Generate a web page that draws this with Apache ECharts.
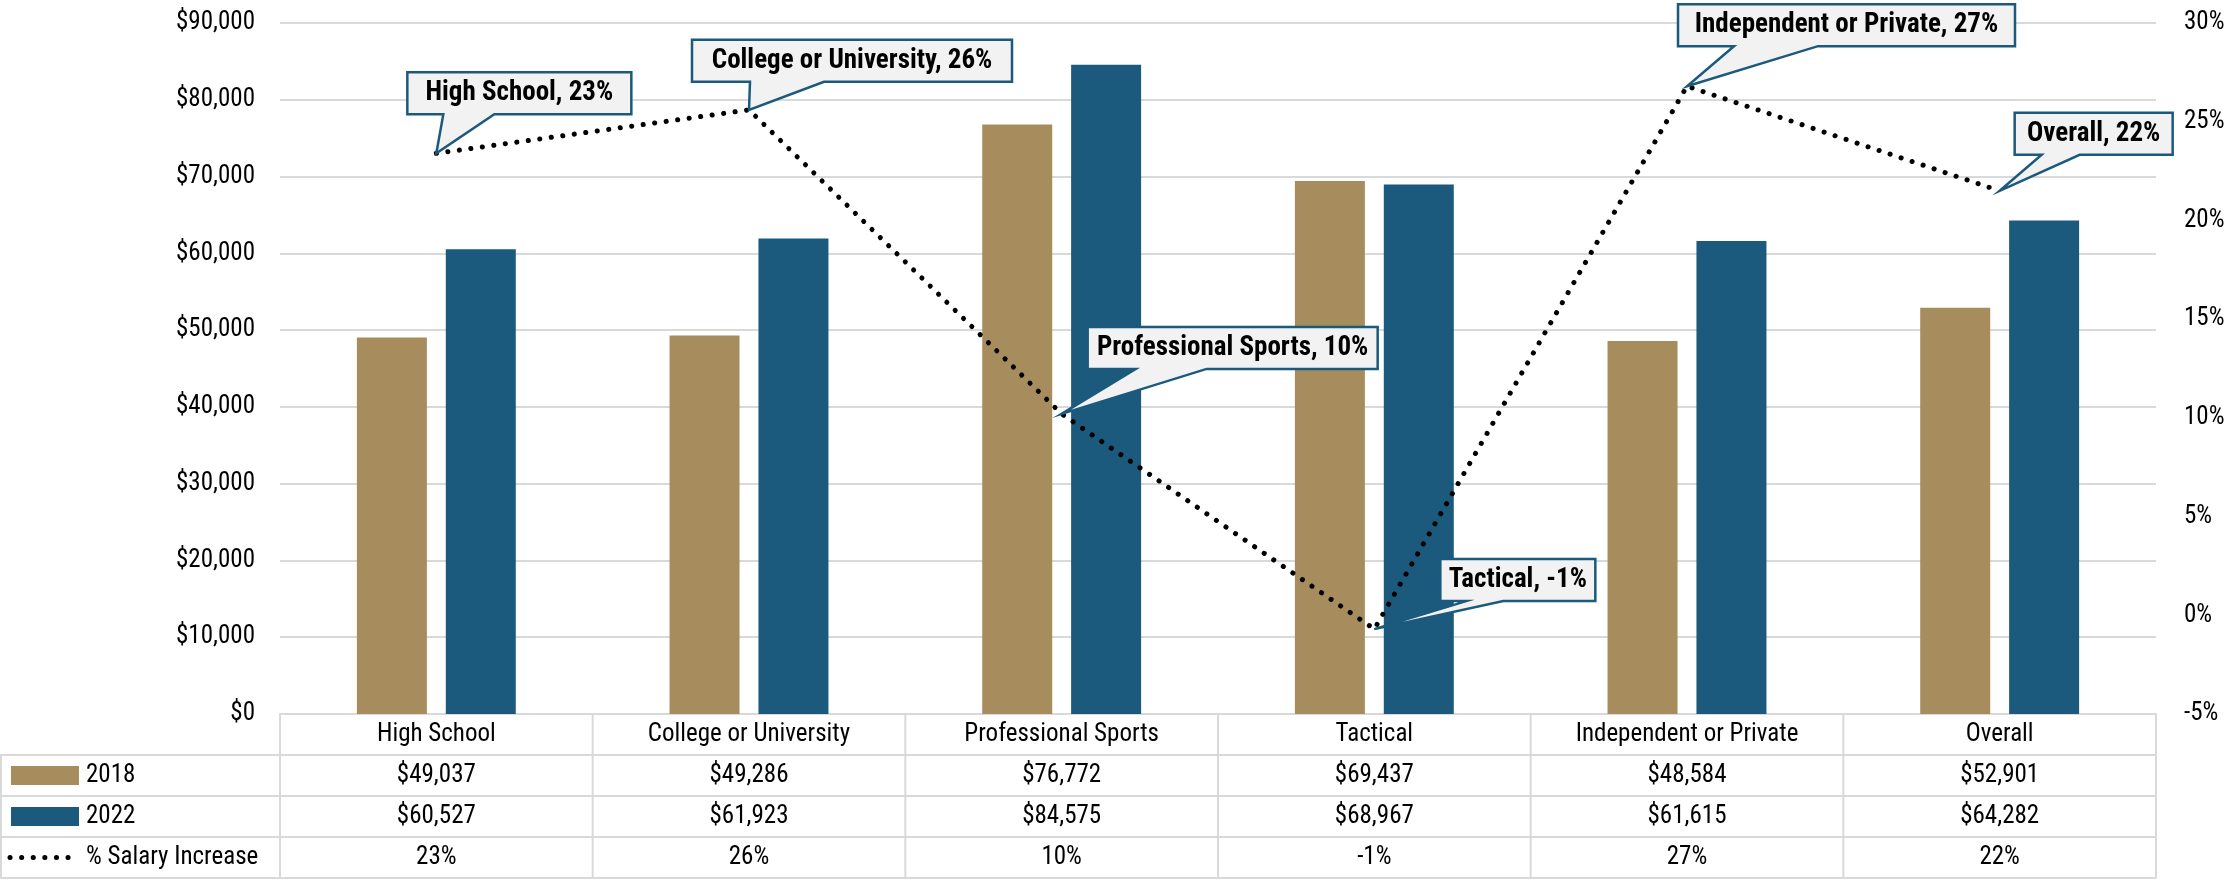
<!DOCTYPE html>
<html><head><meta charset="utf-8">
<script src="https://cdn.jsdelivr.net/npm/echarts@6/dist/echarts.min.js"></script>
<style>html,body{margin:0;padding:0;background:#fff}#c{width:2228px;height:880px}</style>
</head><body><div id="c"></div>
<script>
// ---- data ----
const categories = ['High School','College or University','Professional Sports','Tactical','Independent or Private','Overall'];
const salary2018 = [49037, 49286, 76772, 69437, 48584, 52901];
const salary2022 = [60527, 61923, 84575, 68967, 61615, 64282];
const pctIncrease = [23.4, 25.6, 10.2, -0.7, 26.8, 21.5];
const seriesNames = ['2018', '2022', '% Salary Increase'];
const salaryAxis = {min: 0, max: 90000, interval: 10000};
const pctAxis = {min: -5, max: 30, interval: 5};

// ---- style ----
const FONT = "'Liberation Sans Narrow','Arial Narrow','Roboto Condensed','Liberation Sans',sans-serif";
const C2018 = '#A78D5E', C2022 = '#1B5A7D', GRID = '#D9D9D9';
const G = {left: 280, right: 72, top: 23, bottom: 166};
// callout geometry relative to the data point: box left/top offset, box width, wedge base (from box left)
const calloutGeom = [
  {dx: -29, dy: -81, w: 224, w0: 36, w1: 87},
  {dx: -57, dy: -70, w: 320, w0: 58, w1: 132},
  {dx: 26, dy: -87, w: 290, w0: 48, w1: 119},
  {dx: 66, dy: -70, w: 155, w0: 26, w1: 63},
  {dx: -9, dy: -82, w: 337, w0: 56, w1: 140},
  {dx: 15, dy: -78, w: 158, w0: 27, w1: 65}
];

const money = v => '$' + Math.round(v).toLocaleString('en-US');
const pct = v => Math.round(v) + '%';

const chart = echarts.init(document.getElementById('c'));
chart.setOption({
  animation: false,
  backgroundColor: '#fff',
  grid: {left: G.left, right: G.right, top: G.top, bottom: G.bottom, containLabel: false},
  xAxis: {
    type: 'category', data: categories,
    axisLine: {show: true, lineStyle: {color: GRID, width: 2}},
    axisTick: {show: false},
    axisLabel: {fontFamily: FONT, fontSize: 25, color: '#000', margin: 8, interval: 0}
  },
  yAxis: [
    {type: 'value', min: salaryAxis.min, max: salaryAxis.max, interval: salaryAxis.interval,
     axisLine: {show: false}, axisTick: {show: false},
     splitLine: {lineStyle: {color: GRID, width: 2}},
     axisLabel: {formatter: v => money(v), fontFamily: FONT, fontSize: 25, color: '#000', margin: 25}},
    {type: 'value', min: pctAxis.min, max: pctAxis.max, interval: pctAxis.interval,
     axisLine: {show: false}, axisTick: {show: false}, splitLine: {show: false},
     axisLabel: {formatter: v => v + '%', fontFamily: FONT, fontSize: 25, color: '#000', margin: 28, align: 'left'}}
  ],
  series: [
    {name: seriesNames[0], type: 'bar', data: salary2018, barWidth: 70, barGap: '27%', itemStyle: {color: C2018}},
    {name: seriesNames[1], type: 'bar', data: salary2022, barWidth: 70, barGap: '27%', itemStyle: {color: C2022}},
    {name: seriesNames[2], type: 'line', yAxisIndex: 1, data: pctIncrease, showSymbol: false, z: 5,
     lineStyle: {color: '#000', width: 5, type: [0.1, 11.5], cap: 'round'}}
  ]
});

// ---- table + callouts, positioned from the axes ----
const centers = categories.map((c, i) => chart.convertToPixel({xAxisIndex: 0, yAxisIndex: 0}, [i, 0])[0]);
const band = centers[1] - centers[0];
const tableTop = chart.convertToPixel({yAxisIndex: 0}, salaryAxis.min);
const rowH = 41;
const plotLeft = centers[0] - band / 2, plotRight = centers[centers.length - 1] + band / 2;
const g = [];
const line = (x1, y1, x2, y2) => g.push({type: 'line', shape: {x1, y1, x2, y2}, style: {stroke: GRID, lineWidth: 2}, z: 10});
for (let r = 1; r <= 4; r++) line(0, tableTop + r * rowH, plotRight, tableTop + r * rowH);
line(1, tableTop + rowH, 1, tableTop + 4 * rowH);
for (let i = 0; i <= categories.length; i++) {
  const x = plotLeft + i * band;
  line(x, tableTop, x, tableTop + 4 * rowH);
}
const rowsVals = [salary2018.map(money), salary2022.map(money), pctIncrease.map(pct)];
rowsVals.forEach((vals, r) => {
  const cy = tableTop + (r + 1.5) * rowH;
  vals.forEach((t, i) => g.push({type: 'text', x: centers[i], y: cy, z: 11,
    style: {text: t, fontFamily: FONT, fontSize: 25, fill: '#000', align: 'center', verticalAlign: 'middle'}}));
  g.push({type: 'text', x: 86, y: cy, z: 11,
    style: {text: seriesNames[r], fontFamily: FONT, fontSize: 25, fill: '#000', align: 'left', verticalAlign: 'middle'}});
});
g.push({type: 'rect', shape: {x: 11, y: tableTop + 1.5 * rowH - 9.5, width: 68, height: 19}, style: {fill: C2018}, z: 11});
g.push({type: 'rect', shape: {x: 11, y: tableTop + 2.5 * rowH - 9.5, width: 68, height: 19}, style: {fill: C2022}, z: 11});
g.push({type: 'line', shape: {x1: 10, y1: tableTop + 3.5 * rowH, x2: 72, y2: tableTop + 3.5 * rowH},
  style: {stroke: '#000', lineWidth: 5, lineDash: [0.1, 11.5], lineCap: 'round'}, z: 11});

// callouts
pctIncrease.forEach((v, i) => {
  const [px, py] = chart.convertToPixel({xAxisIndex: 0, yAxisIndex: 1}, [i, v]);
  const cg = calloutGeom[i];
  const text = categories[i] + ', ' + pct(v);
  const w = cg.w, h = 42;
  const L = px + cg.dx, T = py + cg.dy, R = L + w, B = T + h;
  g.push({type: 'polygon', z: 20, shape: {points: [[L, T], [R, T], [R, B], [L + cg.w1, B], [px, py], [L + cg.w0, B], [L, B]]},
    style: {fill: '#F2F2F2', stroke: C2022, lineWidth: 2.5, lineJoin: 'miter'}});
  g.push({type: 'text', z: 21, x: L + w / 2, y: T + h / 2,
    style: {text, fontFamily: FONT, fontWeight: 'bold', fontSize: 27, fill: '#000', align: 'center', verticalAlign: 'middle'}});
});
chart.setOption({graphic: g});
</script></body></html>
